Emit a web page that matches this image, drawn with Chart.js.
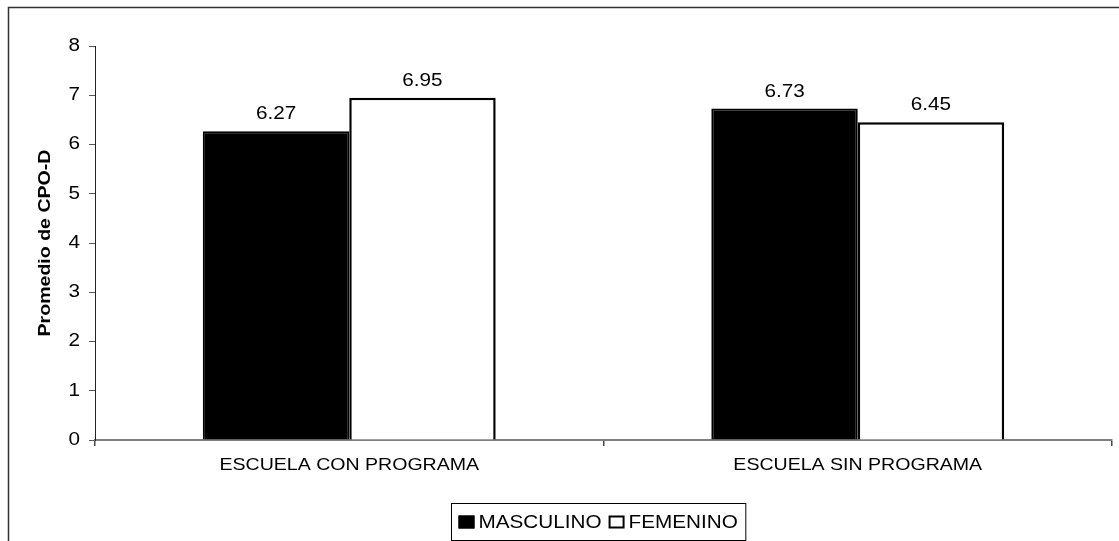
<!DOCTYPE html>
<html>
<head>
<meta charset="utf-8">
<script src="https://cdn.jsdelivr.net/npm/chart.js@4.4.0/dist/chart.umd.min.js"></script>
<style>
  html, body { margin: 0; padding: 0; background: #fff; }
  #wrap { width: 1119px; height: 541px; position: relative; }
</style>
</head>
<body>
<div id="wrap"><canvas id="c" width="1119" height="541"></canvas></div>
<script>
// Average CPO-D index by school type and sex
const categories = ['ESCUELA CON PROGRAMA', 'ESCUELA SIN PROGRAMA'];
const masculino = [6.27, 6.73];
const femenino = [6.95, 6.45];
const seriesNames = ['MASCULINO', 'FEMENINO'];
const yTicks = [0, 1, 2, 3, 4, 5, 6, 7, 8];
const yTitle = 'Promedio de CPO-D';

const FAMILY = '"Liberation Sans", Arial, sans-serif';
const TEXT_STRETCH = 1.15;

const canvas = document.getElementById('c');
const ctx = canvas.getContext('2d');

// Widen every glyph run along its own baseline (Excel-like wide lettering)
const baseFillText = ctx.fillText.bind(ctx);
ctx.fillText = function (text, x, y) {
  this.save();
  this.translate(x, y);
  this.scale(TEXT_STRETCH, 1);
  baseFillText(text, 0, 0);
  this.restore();
};

// Values written above each bar
const valueLabels = {
  id: 'valueLabels',
  afterDatasetsDraw(chart) {
    const c = chart.ctx;
    c.save();
    c.font = '18px ' + FAMILY;
    c.fillStyle = '#000';
    c.textAlign = 'center';
    c.textBaseline = 'alphabetic';
    chart.data.datasets.forEach((ds, i) => {
      chart.getDatasetMeta(i).data.forEach((bar, j) => {
        c.fillText(ds.data[j].toFixed(2), bar.x, bar.y - 12);
      });
    });
    c.restore();
  }
};

// Outer frame and boxed legend below the plot
const frameAndLegend = {
  id: 'frameAndLegend',
  afterDraw(chart) {
    const c = chart.ctx;
    const area = chart.chartArea;
    c.save();
    c.strokeStyle = '#333';
    c.lineWidth = 1.5;
    c.strokeRect(8.5, 7.5, 3000, 3000);

    c.font = '18px ' + FAMILY;
    const sqW = 16, sqH = 13, gapSq = 4, gapItem = 7, padL = 7, padR = 8;
    const items = chart.data.datasets.map(ds => ({
      label: ds.label,
      fill: ds.backgroundColor,
      w: c.measureText(ds.label).width * TEXT_STRETCH
    }));
    let total = padL + padR;
    items.forEach((it, k) => { total += sqW + gapSq + it.w + (k ? gapItem : 0); });
    const boxTop = 503.5, boxH = 37;
    const boxLeft = Math.round((area.left + area.right) / 2 - total / 2 - 5) + 0.5;
    c.lineWidth = 1;
    c.strokeStyle = '#000';
    c.strokeRect(boxLeft, boxTop, total, boxH);

    let x = boxLeft + padL;
    const midY = boxTop + boxH / 2;
    items.forEach((it, k) => {
      if (k) x += gapItem;
      c.fillStyle = it.fill;
      c.fillRect(x, midY - sqH / 2, sqW, sqH);
      c.lineWidth = 2;
      c.strokeStyle = '#000';
      c.strokeRect(x + 1, midY - sqH / 2 + 1, sqW - 2, sqH - 2);
      x += sqW + gapSq;
      c.fillStyle = '#000';
      c.textAlign = 'left';
      c.textBaseline = 'middle';
      c.fillText(it.label, x, midY + 1);
      x += it.w;
    });
    c.restore();
  }
};

new Chart(ctx, {
  type: 'bar',
  data: {
    labels: categories,
    datasets: [
      {
        label: seriesNames[0],
        data: masculino,
        backgroundColor: '#000000',
        borderColor: '#000000',
        borderWidth: 2
      },
      {
        label: seriesNames[1],
        data: femenino,
        backgroundColor: '#ffffff',
        borderColor: '#000000',
        borderWidth: 2.5
      }
    ]
  },
  options: {
    responsive: false,
    animation: false,
    devicePixelRatio: 1,
    layout: { padding: { left: 0, top: 46, right: 7, bottom: 0 } },
    datasets: {
      bar: { categoryPercentage: 0.576, barPercentage: 1.0 }
    },
    plugins: {
      legend: { display: false },
      tooltip: { enabled: false },
      title: { display: false }
    },
    scales: {
      x: {
        grid: {
          display: true,
          offset: true,
          drawOnChartArea: false,
          drawTicks: true,
          tickLength: 6,
          color: '#444',
          lineWidth: 1.5
        },
        border: { display: true, color: '#808080', width: 2 },
        ticks: {
          color: '#000',
          font: { family: FAMILY, size: 17 },
          padding: 9,
          maxRotation: 0
        },
        afterFit(s) { s.height = 101; }
      },
      y: {
        min: 0,
        max: 8,
        afterBuildTicks(s) { s.ticks = yTicks.map(v => ({ value: v })); },
        grid: {
          display: true,
          drawOnChartArea: false,
          drawTicks: true,
          tickLength: 6,
          color: '#555',
          lineWidth: 1
        },
        border: { display: true, color: '#222', width: 1 },
        ticks: {
          color: '#000',
          font: { family: FAMILY, size: 18 },
          padding: 9
        },
        title: {
          display: true,
          text: yTitle,
          color: '#000',
          font: { family: FAMILY, size: 17, weight: 'bold' },
          padding: { top: 35, bottom: 0 }
        },
        afterFit(s) { s.width = 95; }
      }
    }
  },
  plugins: [valueLabels, frameAndLegend]
});
</script>
</body>
</html>
